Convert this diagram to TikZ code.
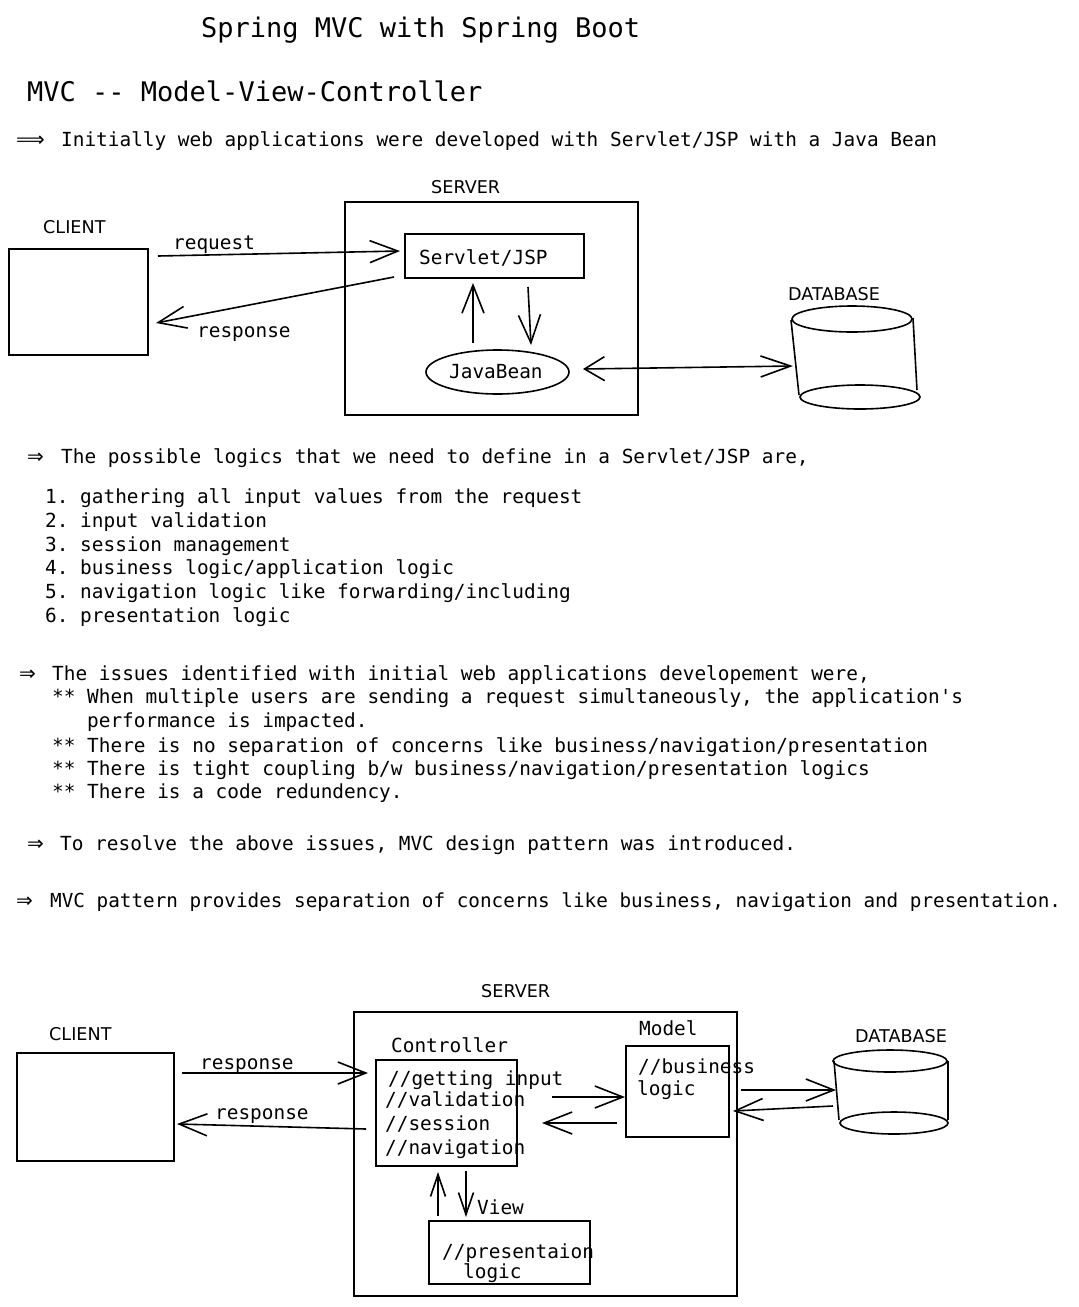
\documentclass[tikz,border=0pt]{standalone}
\usepackage{fontspec}
\setmonofont{DejaVu Sans Mono}
\newfontfamily\lblfont{DejaVu Sans}
\newfontfamily\symfont{DejaVu Sans}
\usetikzlibrary{arrows.meta,shapes.geometric}
\begin{document}
\begin{tikzpicture}[x=1pt,y=-1pt,
  txt/.style={anchor=base west, inner sep=0pt, font=\ttfamily\fontsize{19.4}{23}\selectfont},
  txtsm/.style={anchor=base west, inner sep=0pt, font=\ttfamily\fontsize{19.3}{23}\selectfont},
  big/.style={anchor=base west, inner sep=0pt, font=\ttfamily\fontsize{27}{32}\selectfont},
  lbl/.style={anchor=base west, inner sep=0pt, font=\lblfont\fontsize{17.6}{21}\selectfont},
  sym/.style={anchor=base west, inner sep=0pt, font=\symfont\fontsize{20}{23}\selectfont},
  box/.style={draw, line width=1.6pt, rectangle, inner sep=0pt},
  oval/.style={draw, line width=1.6pt, ellipse, inner sep=0pt},
  line/.style={line width=1.6pt},
  arr/.style={line width=1.6pt, -{Straight Barb[length=28pt,width=22pt]}},
  sarr/.style={line width=1.6pt, -{Straight Barb[length=22pt,width=15pt]}},
  darr/.style={line width=1.6pt, {Straight Barb[length=20pt,width=24pt]}-{Straight Barb[length=30pt,width=21pt]}},
]
\fill[white] (0,0) rectangle (1079,1307);
\useasboundingbox (0,0) rectangle (1079,1307);

% ---------- headings ----------
\node[big] (title) at (201,37) {Spring MVC with Spring Boot};
\node[big] (mvc) at (27,101) {MVC -- Model-View-Controller};
\node[sym] (ar1) at (16,146) {⟹};
\node[txt] (t1) at (61,146) {Initially web applications were developed with Servlet/JSP with a Java Bean};

% ---------- diagram 1 ----------
\node[lbl] (srv1lbl) at (431,193) {SERVER};
\node[lbl] (cli1lbl) at (43,233) {CLIENT};
\node[lbl] (db1lbl) at (788,300) {DATABASE};

\node[box, minimum width=139pt, minimum height=106pt] (client1) at (78.5,302) {};
\node[box, minimum width=293pt, minimum height=213pt] (server1) at (491.5,308.5) {};
\node[box, minimum width=179pt, minimum height=44pt] (servlet) at (494.5,256) {};
\node[txt] (servlettxt) at (419,264) {Servlet/JSP};
\node[oval, minimum width=143pt, minimum height=44pt] (bean) at (497.5,372) {};
\node[txt] (beantxt) at (449,378) {JavaBean};

% database cylinder 1
\draw[line] (852,319) ellipse [x radius=60, y radius=13];
\draw[line] (860,397) ellipse [x radius=60, y radius=12];
\draw[line] (791,320) -- (799,395);
\draw[line] (913,318) -- (917,390);

\coordinate (req1s) at (158,256);
\coordinate (req1e) at (400,251);
\coordinate (resp1s) at (394,277);
\coordinate (resp1e) at (156,323);
\coordinate (up1s) at (473,343);
\coordinate (up1e) at (473,283);
\coordinate (dn1s) at (528,287);
\coordinate (dn1e) at (531,345);
\coordinate (db1a) at (583,369);
\coordinate (db1b) at (793,366);

\draw[arr] (req1s) -- (req1e);
\draw[arr] (resp1s) -- (resp1e);
\draw[arr] (up1s) -- (up1e);
\draw[arr] (dn1s) -- (dn1e);
\draw[darr] (db1a) -- (db1b);

\node[txt] (reqlbl) at (173,249) {request};
\node[txt] (resplbl) at (197,337) {response};

% ---------- text block ----------
\node[sym] (ar2) at (27,463) {⇒};
\node[txt] (t2) at (61,463) {The possible logics that we need to define in a Servlet/JSP are,};
\node[txt] (l1) at (45,503) {1. gathering all input values from the request};
\node[txt] (l2) at (45,527) {2. input validation};
\node[txt] (l3) at (45,551) {3. session management};
\node[txt] (l4) at (45,574) {4. business logic/application logic};
\node[txt] (l5) at (45,598) {5. navigation logic like forwarding/including};
\node[txt] (l6) at (45,622) {6. presentation logic};

\node[sym] (ar3) at (19,680) {⇒};
\node[txt] (t3) at (52,680) {The issues identified with initial web applications developement were,};
\node[txt] (i1) at (52,703) {** When multiple users are sending a request simultaneously, the application's};
\node[txt] (i1b) at (87,727) {performance is impacted.};
\node[txt] (i2) at (52,752) {** There is no separation of concerns like business/navigation/presentation};
\node[txt] (i3) at (52,775) {** There is tight coupling b/w business/navigation/presentation logics};
\node[txt] (i4) at (52,798) {** There is a code redundency.};

\node[sym] (ar4) at (27,850) {⇒};
\node[txt] (t4) at (60,850) {To resolve the above issues, MVC design pattern was introduced.};
\node[sym] (ar5) at (16,907) {⇒};
\node[txtsm] (t5) at (50,907) {MVC pattern provides separation of concerns like business, navigation and presentation.};

% ---------- diagram 2 ----------
\node[lbl] (srv2lbl) at (481,997) {SERVER};
\node[lbl] (cli2lbl) at (49,1040) {CLIENT};
\node[lbl] (db2lbl) at (855,1042) {DATABASE};

\node[box, minimum width=157pt, minimum height=108pt] (client2) at (95.5,1107) {};
\node[box, minimum width=383pt, minimum height=284pt] (server2) at (545.5,1154) {};
\node[box, minimum width=141pt, minimum height=106pt] (ctrl) at (446.5,1113) {};
\node[box, minimum width=103pt, minimum height=91pt] (model) at (677.5,1091.5) {};
\node[box, minimum width=161pt, minimum height=63pt] (view) at (509.5,1252.5) {};

\node[txt] (modellbl) at (639,1035) {Model};
\node[txt] (ctrllbl) at (391,1052) {Controller};
\node[txt] (viewlbl) at (477,1214) {View};
\node[txt] (c1) at (388,1085) {//getting input};
\node[txt] (c2) at (385,1106) {//validation};
\node[txt] (c3) at (385,1130) {//session};
\node[txt] (c4) at (385,1154) {//navigation};
\node[txt] (m1) at (638,1073) {//business};
\node[txt] (m2) at (637,1095) {logic};
\node[txt] (v1) at (442,1258) {//presentaion};
\node[txt] (v2) at (463,1278) {logic};

% database cylinder 2
\draw[line] (890,1061) ellipse [x radius=57, y radius=11];
\draw[line] (894,1123) ellipse [x radius=54, y radius=11];
\draw[line] (834,1061) -- (839,1120);
\draw[line] (948,1061) -- (948,1120);

\coordinate (r2as) at (182,1073);
\coordinate (r2ae) at (368,1073);
\coordinate (r2bs) at (366,1129);
\coordinate (r2be) at (177,1124);
\coordinate (cms) at (552,1097);
\coordinate (cme) at (625,1097);
\coordinate (mcs) at (617,1123);
\coordinate (mce) at (542,1123);
\coordinate (up2s) at (438,1216);
\coordinate (up2e) at (438,1172);
\coordinate (dn2s) at (466,1171);
\coordinate (dn2e) at (466,1217);
\coordinate (mdbs) at (741,1090);
\coordinate (mdbe) at (836,1090);
\coordinate (dbms) at (833,1106);
\coordinate (dbme) at (733,1111);

\draw[arr] (r2as) -- (r2ae);
\draw[arr] (r2bs) -- (r2be);
\draw[arr] (cms) -- (cme);
\draw[arr] (mcs) -- (mce);
\draw[sarr] (up2s) -- (up2e);
\draw[sarr] (dn2s) -- (dn2e);
\draw[arr] (mdbs) -- (mdbe);
\draw[arr] (dbms) -- (dbme);

\node[txt] (r2alb) at (200,1069) {response};
\node[txt] (r2blb) at (215,1119) {response};
\end{tikzpicture}
\end{document}
